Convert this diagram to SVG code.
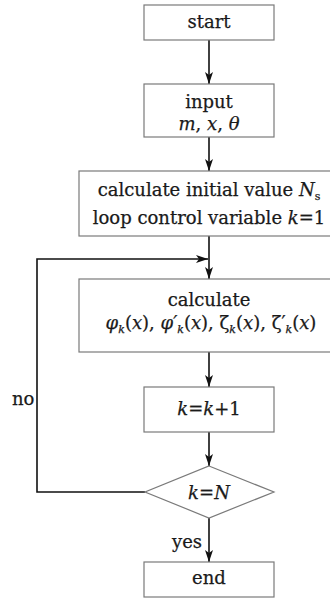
<svg xmlns="http://www.w3.org/2000/svg" width="330" height="598" viewBox="0 0 330 598">
<style>
.box{fill:#fff;stroke:#7a7a7a;stroke-width:1.2}
.t{font-family:"DejaVu Serif","Liberation Serif",serif;font-size:18px;fill:#1a1a1a;stroke:#1a1a1a;stroke-width:0.25;text-anchor:middle}
.tl{font-family:"DejaVu Serif","Liberation Serif",serif;font-size:18px;fill:#1a1a1a;stroke:#1a1a1a;stroke-width:0.25}
.i{font-style:italic}
.sub{font-size:11px}
.c{fill:none;stroke:#111;stroke-width:1.6}
</style>
<defs>
<marker id="ah" viewBox="0 0 12 8" refX="12" refY="4" markerWidth="12" markerHeight="8" markerUnits="userSpaceOnUse" orient="auto">
<path d="M0,0 L12,4 L0,8 L3,4 Z" fill="#111"/>
</marker>
</defs>
<rect width="330" height="598" fill="#fff"/>
<g id="connectors">
<line class="c" x1="209" y1="40" x2="209" y2="84" marker-end="url(#ah)"/>
<line class="c" x1="209" y1="137" x2="209" y2="171" marker-end="url(#ah)"/>
<line class="c" x1="209" y1="236" x2="209" y2="279" marker-end="url(#ah)"/>
<line class="c" x1="209" y1="352" x2="209" y2="387" marker-end="url(#ah)"/>
<line class="c" x1="209" y1="432" x2="209" y2="466" marker-end="url(#ah)"/>
<line class="c" x1="209" y1="518" x2="209" y2="562" marker-end="url(#ah)"/>
<polyline class="c" points="145,492 37,492 37,259 208,259" marker-end="url(#ah)"/>
<text class="tl" x="12" y="405">no</text>
<text class="tl" x="172" y="548">yes</text>
</g>
<g id="start">
<rect class="box" x="144" y="5" width="130" height="35"/>
<text class="t" x="209" y="28">start</text>
</g>
<g id="input">
<rect class="box" x="144" y="84" width="130" height="53"/>
<text class="t" x="209" y="108">input</text>
<text class="t" x="209" y="130"><tspan class="i">m</tspan>, <tspan class="i">x</tspan>, <tspan class="i">θ</tspan></text>
</g>
<g id="init">
<rect class="box" x="79" y="171" width="270" height="65"/>
<text class="t" x="209" y="196">calculate initial value <tspan class="i">N</tspan><tspan class="sub" dy="4">s</tspan></text>
<text class="t" x="209" y="224">loop control variable <tspan class="i">k</tspan>=1</text>
</g>
<g id="calc">
<rect class="box" x="79" y="279" width="270" height="73"/>
<text class="t" x="209" y="306">calculate</text>
<text class="t" x="211" y="329"><tspan class="i">φ</tspan><tspan class="sub i" dy="4">k</tspan><tspan dy="-4">(</tspan><tspan class="i">x</tspan>), <tspan class="i">φ′</tspan><tspan class="sub i" dy="4">k</tspan><tspan dy="-4">(</tspan><tspan class="i">x</tspan>), ζ<tspan class="sub i" dy="4">k</tspan><tspan dy="-4">(</tspan><tspan class="i">x</tspan>), ζ′<tspan class="sub i" dy="4">k</tspan><tspan dy="-4">(</tspan><tspan class="i">x</tspan>)</text>
</g>
<g id="inc">
<rect class="box" x="144" y="387" width="130" height="45"/>
<text class="t" x="209" y="415"><tspan class="i">k</tspan>=<tspan class="i">k</tspan>+1</text>
</g>
<g id="check">
<polygon class="box" points="209,466 274,492 209,518 145,492"/>
<text class="t" x="209" y="499"><tspan class="i">k</tspan>=<tspan class="i">N</tspan></text>
</g>
<g id="end">
<rect class="box" x="144" y="562" width="130" height="35"/>
<text class="t" x="209" y="584">end</text>
</g>
</svg>
